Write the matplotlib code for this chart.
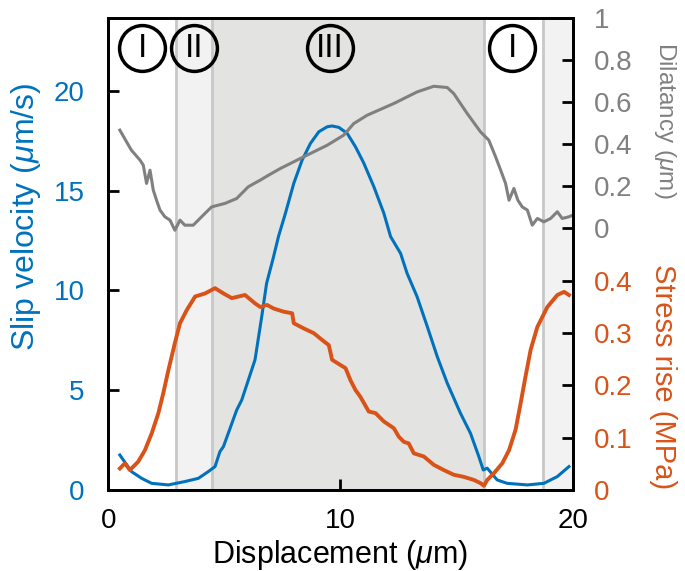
import numpy as np
import matplotlib
matplotlib.use("Agg")
from matplotlib import pyplot as plt

plt.rcParams['font.family'] = ['Liberation Sans', 'DejaVu Sans']
plt.rcParams['mathtext.fontset'] = 'custom'
plt.rcParams['mathtext.it'] = 'Liberation Sans:italic'
plt.rcParams['mathtext.rm'] = 'Liberation Sans'

# slip velocity (um/s) vs displacement (um)
vel_x = [0.5, 1.0, 1.44, 1.87, 2.59, 3.3, 3.88, 4.31, 4.6, 4.81, 4.96, 5.17, 5.53, 5.75,
         6.32, 6.61, 6.82, 7.1, 7.33, 7.63, 7.99, 8.35, 8.71, 9.07, 9.43, 9.64, 9.93,
         10.29, 10.65, 11.0, 11.44, 11.87, 12.16, 12.59, 12.87, 13.3, 13.74, 14.17, 14.6,
         15.17, 15.6, 15.96, 16.15, 16.32, 16.75, 17.18, 18.05, 18.76, 19.34, 19.84]
vel_y = [1.75, 0.92, 0.58, 0.33, 0.25, 0.42, 0.58, 0.92, 1.17, 1.92, 2.17, 2.84, 4.0, 4.51,
         6.52, 8.69, 10.36, 11.6, 12.7, 13.87, 15.37, 16.54, 17.38, 17.96, 18.21, 18.25, 18.18,
         17.88, 17.2, 16.4, 15.2, 13.87, 12.7, 11.86, 10.86, 9.69, 8.19, 6.68, 5.35,
         3.84, 2.84, 1.67, 1.0, 1.09, 0.5, 0.33, 0.25, 0.33, 0.67, 1.17]

# stress rise (MPa)
str_x = [0.5, 0.72, 0.93, 1.29, 1.58, 1.87, 2.16, 2.37, 2.59, 2.87, 3.09, 3.38, 3.74, 4.17,
         4.6, 4.96, 5.32, 5.89, 6.32, 6.55, 6.84, 7.13, 7.56, 7.92, 7.99, 8.42, 8.85, 9.21,
         9.5, 9.64, 10.0, 10.22, 10.43, 10.65, 10.86, 11.22, 11.51, 11.87, 12.3, 12.51, 12.73,
         12.94, 13.16, 13.59, 14.02, 14.45, 14.88, 15.31, 15.75, 16.03, 16.18, 16.32, 16.61,
         16.97, 17.26, 17.54, 17.76, 17.97, 18.19, 18.48, 18.91, 19.34, 19.63, 19.84]
str_y = [0.041, 0.051, 0.038, 0.054, 0.076, 0.108, 0.147, 0.185, 0.229, 0.281, 0.319, 0.344,
         0.370, 0.376, 0.386, 0.376, 0.367, 0.373, 0.357, 0.350, 0.354, 0.347, 0.341, 0.338,
         0.319, 0.309, 0.300, 0.287, 0.277, 0.249, 0.239, 0.233, 0.210, 0.191, 0.178, 0.150,
         0.147, 0.131, 0.118, 0.102, 0.092, 0.089, 0.070, 0.064, 0.048, 0.038, 0.029, 0.025,
         0.019, 0.013, 0.008, 0.019, 0.032, 0.051, 0.076, 0.115, 0.166, 0.217, 0.268, 0.312,
         0.350, 0.373, 0.379, 0.373]

# dilatancy (um)
dil_x = [0.5, 0.79, 1.0, 1.37, 1.51, 1.65, 1.8, 1.94, 2.08, 2.23, 2.44, 2.66, 2.87, 3.09,
         3.3, 3.66, 4.02, 4.45, 5.03, 5.53, 6.03, 6.55, 6.9, 7.41, 8.42, 9.43, 10.14, 10.57,
         11.15, 12.3, 13.3, 14.02, 14.31, 14.6, 14.88, 15.46, 16.03, 16.39, 16.68, 16.9,
         17.11, 17.26, 17.47, 17.64, 17.83, 18.05, 18.26, 18.48, 18.76, 19.05, 19.34, 19.55,
         19.84, 20.0]
dil_y = [0.467, 0.411, 0.371, 0.324, 0.300, 0.213, 0.276, 0.181, 0.133, 0.086, 0.054, 0.038,
         -0.01, 0.038, 0.014, 0.014, 0.054, 0.101, 0.118, 0.141, 0.197, 0.229, 0.252, 0.284,
         0.340, 0.395, 0.443, 0.498, 0.538, 0.594, 0.649, 0.676, 0.673, 0.670, 0.641, 0.546,
         0.459, 0.419, 0.340, 0.276, 0.213, 0.133, 0.189, 0.133, 0.101, 0.086, 0.014, 0.046,
         0.030, 0.046, 0.078, 0.046, 0.054, 0.062]

phase_lines = [2.92, 4.46, 16.17, 18.71]
phase_labels = ['I', 'II', 'III', 'I']
phase_label_x = [1.46, 3.7, 9.55, 17.4]

blue = '#0072BD'
orange = '#D95319'
gray = '#808080'

fig = plt.figure(figsize=(6.85, 5.71), dpi=100)
ax = fig.add_axes([0.158, 0.142, 0.678, 0.826])
ax_d = ax.twinx()
ax_s = ax.twinx()

# background phases
ax.axvspan(phase_lines[0], phase_lines[1], color='#F2F2F2', zorder=0, lw=0)
ax.axvspan(phase_lines[1], phase_lines[2], color='#E3E3E1', zorder=0, lw=0)
ax.axvspan(phase_lines[3], 20, color='#F2F2F2', zorder=0, lw=0)
for xl in phase_lines:
    ax.axvline(xl, color='#C8C8C8', lw=2, zorder=1)

ax.plot(vel_x, vel_y, color=blue, lw=2.2, zorder=3)
ax_d.plot(dil_x, dil_y, color=gray, lw=2.2)
ax_s.plot(str_x, str_y, color=orange, lw=2.8)

ax.set_xlim(0, 20)
ax.set_ylim(0, 23.65)
ax_d.set_ylim(-1.2475, 1)
ax_s.set_ylim(0, 0.9025)

ax.set_xticks([0, 10, 20])
ax.set_yticks([0, 5, 10, 15, 20])
ax_d.set_yticks([0, 0.2, 0.4, 0.6, 0.8, 1])
ax_d.set_yticklabels(['0', '0.2', '0.4', '0.6', '0.8', '1'])
ax_s.set_yticks([0, 0.1, 0.2, 0.3, 0.4])
ax_s.set_yticklabels(['0', '0.1', '0.2', '0.3', '0.4'])

ax.tick_params(axis='x', direction='in', length=8, width=2, labelsize=20, pad=13)
ax.tick_params(axis='y', direction='in', length=8, width=2, labelsize=20, pad=17,
               labelcolor=blue)
ax_d.tick_params(axis='y', direction='in', length=8, width=2, labelsize=20,
                 labelcolor=gray, pad=15)
ax_s.tick_params(axis='y', direction='in', length=8, width=2, labelsize=20,
                 labelcolor=orange, pad=15)

for a in (ax, ax_d, ax_s):
    for sp in a.spines.values():
        sp.set_linewidth(2)
ax_d.patch.set_visible(False)
ax_s.patch.set_visible(False)

ax.set_xlabel(r'Displacement ($\mu$m)', fontsize=22, labelpad=3)
ax.set_ylabel(r'Slip velocity ($\mu$m/s)', fontsize=23, color=blue, va='center')
ax.yaxis.set_label_coords(-0.178, 0.58)
ax_d.set_ylabel(r'Dilatancy ($\mu$m)', fontsize=17.5, color=gray, rotation=270,
                va='center')
ax_d.yaxis.set_label_coords(1.198, 0.784)
ax_s.set_ylabel('Stress rise (MPa)', fontsize=21, color=orange, rotation=270,
                va='center')
ax_s.yaxis.set_label_coords(1.194, 0.24)

for xl, lab in zip(phase_label_x, phase_labels):
    ax.plot(xl, 22.15, 'o', ms=33, mfc='none', mec='black', mew=2.5, zorder=4)
    ax.text(xl, 22.15, lab, ha='center', va='center', fontsize=24, zorder=5)

fig.savefig('out.png', dpi=100)
